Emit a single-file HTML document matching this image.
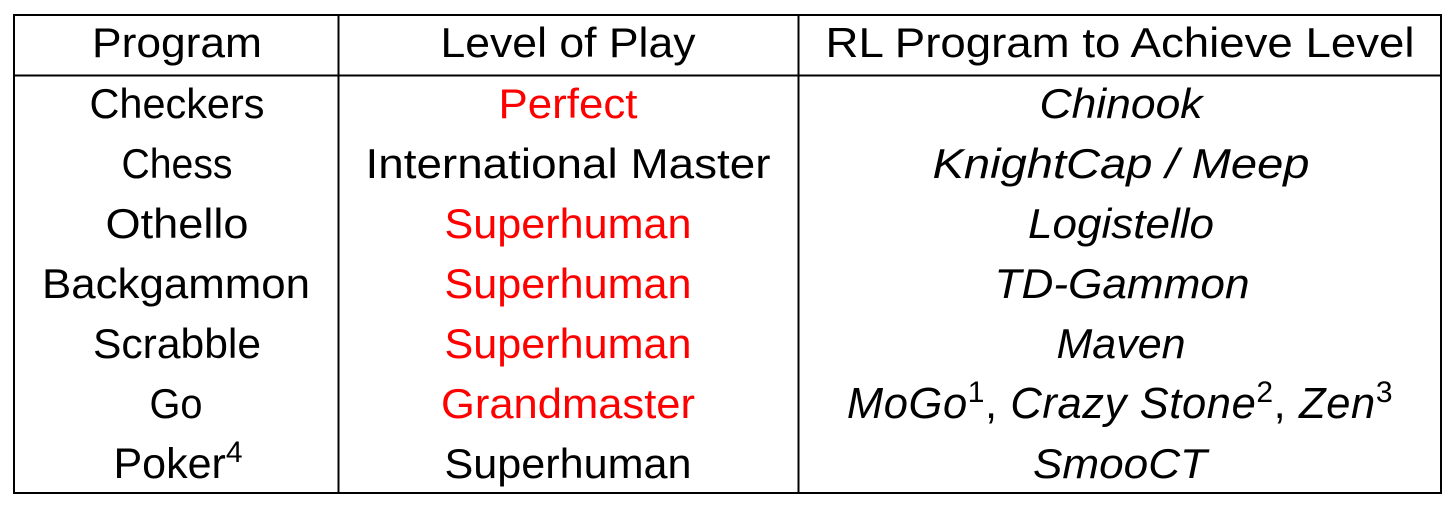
<!DOCTYPE html>
<html><head><style>html,body{margin:0;padding:0;background:#fff;}svg{display:block}</style></head>
<body>
<svg width="1456" height="510" xmlns="http://www.w3.org/2000/svg" font-family="Liberation Sans, sans-serif" font-size="42" text-anchor="middle">
<rect x="14" y="15" width="1427" height="478" fill="none" stroke="#000" stroke-width="2"/>
<line x1="14" y1="75.5" x2="1441" y2="75.5" stroke="#000" stroke-width="2"/>
<line x1="338.5" y1="15" x2="338.5" y2="493" stroke="#000" stroke-width="2"/>
<line x1="798.5" y1="15" x2="798.5" y2="493" stroke="#000" stroke-width="2"/>
<g fill="#000">
<text x="177" y="57" textLength="170" lengthAdjust="spacingAndGlyphs">Program</text>
<text x="568" y="57" textLength="255" lengthAdjust="spacingAndGlyphs">Level of Play</text>
<text x="1120" y="57" textLength="589" lengthAdjust="spacingAndGlyphs">RL Program to Achieve Level</text>

<text x="177" y="118" textLength="175" lengthAdjust="spacingAndGlyphs">Checkers</text>
<text x="177" y="178" textLength="111" lengthAdjust="spacingAndGlyphs">Chess</text>
<text x="177" y="238" textLength="143" lengthAdjust="spacingAndGlyphs">Othello</text>
<text x="176" y="298" textLength="268" lengthAdjust="spacingAndGlyphs">Backgammon</text>
<text x="177" y="358" textLength="168" lengthAdjust="spacingAndGlyphs">Scrabble</text>
<text x="176" y="418" textLength="53" lengthAdjust="spacingAndGlyphs">Go</text>
<text x="178" y="478" font-size="43">Poker<tspan font-size="30" dy="-16">4</tspan></text>

<text x="568" y="178" textLength="405" lengthAdjust="spacingAndGlyphs">International Master</text>
<text x="568" y="478" textLength="247" lengthAdjust="spacingAndGlyphs">Superhuman</text>
</g>
<g fill="#f00">
<text x="568" y="118" textLength="139" lengthAdjust="spacingAndGlyphs">Perfect</text>
<text x="568" y="238" textLength="247" lengthAdjust="spacingAndGlyphs">Superhuman</text>
<text x="568" y="298" textLength="247" lengthAdjust="spacingAndGlyphs">Superhuman</text>
<text x="568" y="358" textLength="247" lengthAdjust="spacingAndGlyphs">Superhuman</text>
<text x="568" y="418" textLength="254" lengthAdjust="spacingAndGlyphs">Grandmaster</text>
</g>
<g fill="#000" font-style="italic">
<text x="1121" y="118" textLength="163" lengthAdjust="spacingAndGlyphs">Chinook</text>
<text x="1121" y="178" textLength="377" lengthAdjust="spacingAndGlyphs">KnightCap / Meep</text>
<text x="1121" y="238" textLength="186" lengthAdjust="spacingAndGlyphs">Logistello</text>
<text x="1122" y="298" textLength="255" lengthAdjust="spacingAndGlyphs">TD-Gammon</text>
<text x="1121" y="358" textLength="129" lengthAdjust="spacingAndGlyphs">Maven</text>
<text x="1120" y="418" font-size="43.5" letter-spacing="0.6">MoGo<tspan font-style="normal" font-size="30" dy="-16">1</tspan><tspan font-style="normal" dy="16">, </tspan>Crazy Stone<tspan font-style="normal" font-size="30" dy="-16">2</tspan><tspan font-style="normal" dy="16">, </tspan>Zen<tspan font-style="normal" font-size="30" dy="-16">3</tspan></text>
<text x="1120" y="478" textLength="174" lengthAdjust="spacingAndGlyphs">SmooCT</text>
</g>
</svg>
</body></html>
